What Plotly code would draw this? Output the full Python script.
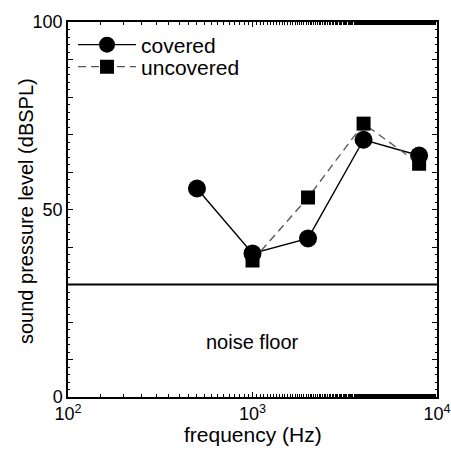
import plotly.graph_objects as go

freq_covered = [500, 1000, 2000, 4000, 8000]
spl_covered = [55.6, 38.3, 42.3, 68.6, 64.4]
freq_uncovered = [1000, 2000, 4000, 8000]
spl_uncovered = [36.4, 53.2, 72.9, 62.2]
noise_floor = 30
xtick_vals = [100, 1000, 10000]
xtick_text = ["10<sup>2</sup>", "10<sup>3</sup>", "10<sup>4</sup>"]
ytick_vals = [0, 10, 20, 30, 40, 50, 60, 70, 80, 90, 100]
ytick_text = ["0", "", "", "", "", "50", "", "", "", "", "100"]

font = "Liberation Sans, Arial, sans-serif"
fig = go.Figure()
fig.add_trace(go.Scatter(x=freq_covered, y=spl_covered, mode="lines+markers", name="covered",
                         line=dict(color="black", width=1.4),
                         marker=dict(symbol="circle", size=18, color="black"), legend="legend"))
fig.add_trace(go.Scatter(x=freq_uncovered, y=spl_uncovered, mode="lines+markers", name="uncovered",
                         line=dict(color="#555555", width=1.3, dash="8px,5px"),
                         marker=dict(symbol="square", size=14, color="black"), legend="legend2"))
fig.add_hline(y=noise_floor, line=dict(color="black", width=2))
fig.add_annotation(x=3, y=14.6, xref="x", yref="y", text="noise floor", showarrow=False,
                   font=dict(size=20, color="black", family=font))
fig.add_annotation(x=-0.1138, y=0.496, xref="paper", yref="paper", text="sound pressure level (dBSPL)",
                   textangle=-90, showarrow=False, xanchor="center", yanchor="middle",
                   font=dict(size=20, color="black", family=font))
fig.add_annotation(x=0.5, y=-0.101, xref="paper", yref="paper", text="frequency (Hz)",
                   showarrow=False, xanchor="center", yanchor="middle",
                   font=dict(size=21, color="black", family=font))

leg = dict(xanchor="left", yanchor="middle", bgcolor="rgba(0,0,0,0)",
           font=dict(size=21), itemwidth=58)
fig.update_layout(
    width=451, height=450,
    margin=dict(l=68, r=14, t=22, b=53, autoexpand=False),
    paper_bgcolor="white", plot_bgcolor="white",
    font=dict(family=font, color="black", size=18),
    showlegend=True,
    legend=dict(x=0.0136, y=0.9387, **leg),
    legend2=dict(x=0.0136, y=0.88, **leg),
    xaxis=dict(type="log", range=[2, 4], tickvals=xtick_vals, ticktext=xtick_text,
               ticks="inside", ticklen=5, tickcolor="black", showline=True, linecolor="black",
               linewidth=1.5, mirror="allticks", showgrid=False, zeroline=False, automargin=False,
               ticklabeloverflow="allow",
               minor=dict(ticks="inside", ticklen=3, tickcolor="black", showgrid=False),
               tickfont=dict(size=18)),
    yaxis=dict(range=[0, 100], tickvals=ytick_vals, ticktext=ytick_text,
               ticks="inside", ticklen=5, tickcolor="black", showline=True, linecolor="black",
               linewidth=1.5, mirror="allticks", showgrid=False, zeroline=False, automargin=False,
               minor=dict(ticks="inside", ticklen=2, dtick=2, tickcolor="black", showgrid=False),
               tickfont=dict(size=18)),
)
fig.write_html("out.html", config={"displayModeBar": False},
               post_script="document.body.style.margin='0';document.body.style.overflow='hidden';")
